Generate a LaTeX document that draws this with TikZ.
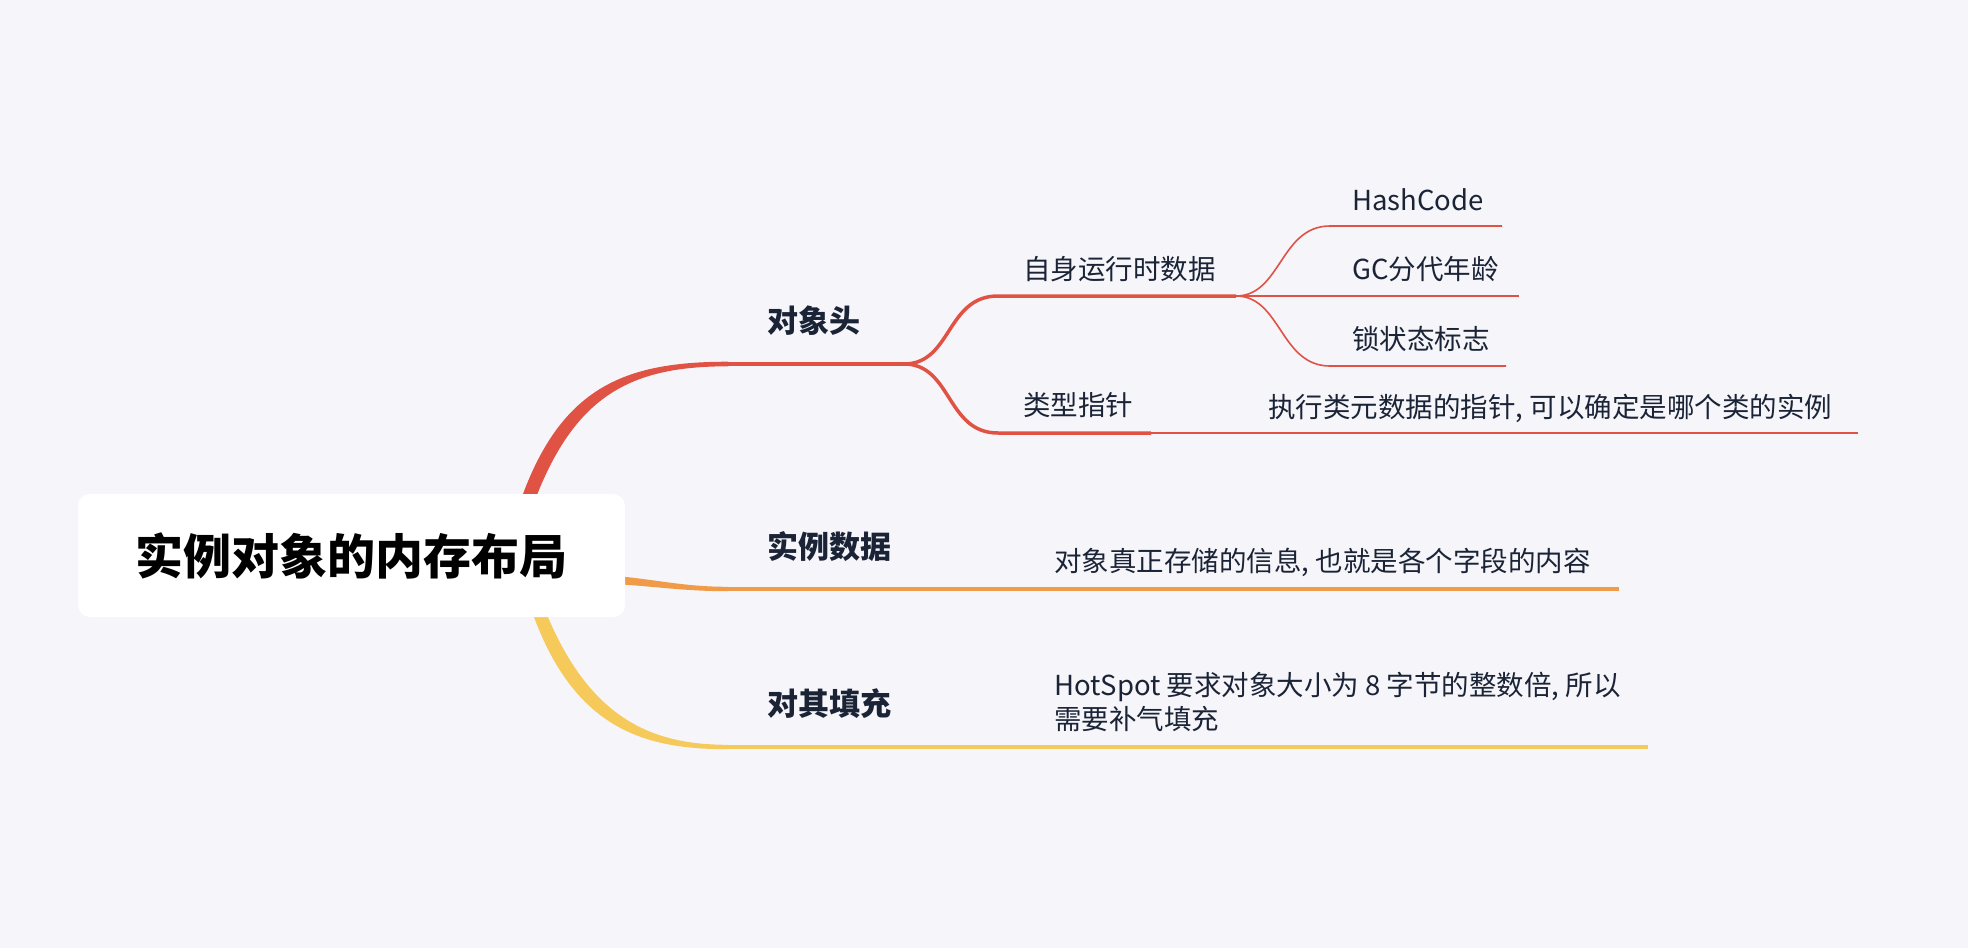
\documentclass[tikz,border=0pt]{standalone}
\usepackage{fontspec}
\setmainfont{Noto Sans CJK SC}
\usepackage{tikz}
\usepackage{xcolor}
\usetikzlibrary{positioning, backgrounds}

\definecolor{pagebg}{HTML}{F5F5FA}
\definecolor{ink}{HTML}{1B2436}
\definecolor{redbr}{HTML}{E05243}
\definecolor{orangebr}{HTML}{EF9B47}
\definecolor{yellowbr}{HTML}{F6CA5A}

\tikzset{
    rootbox/.style={fill=white, rounded corners=12pt, minimum width=547pt, minimum height=123pt, inner sep=0pt, font=\fontsize{48}{58}\selectfont\bfseries},
    topic/.style={anchor=west, inner sep=0pt, text=ink, font=\fontsize{31}{37}\selectfont\bfseries},
    subtopic/.style={anchor=west, inner sep=0pt, text=ink, font=\fontsize{27.5}{34}\selectfont},
    midline/.style={line width=3.5pt},
    leafline/.style={line width=1.6pt}
}

\begin{document}
\begin{tikzpicture}[x=1pt, y=-1pt]
        \useasboundingbox (0,0) rectangle (1968,948);

        \node[rootbox] (root) at (351.5, 555.5) {实例对象的内存布局};

        \node[topic] (hdr) at (767, 321) {对象头};
        \node[topic] (inst) at (767, 547) {实例数据};
        \node[topic] (pad) at (767, 704) {对其填充};

        \node[subtopic] (mark) at (1023, 269) {自身运行时数据};
        \node[subtopic] (kptr) at (1023, 405) {类型指针};
        \node[subtopic] (hash) at (1352, 200) {HashCode};
        \node[subtopic] (gcage) at (1352, 269) {GC分代年龄};
        \node[subtopic] (lock) at (1352, 339) {锁状态标志};
        \node[subtopic] (kptrinfo) at (1268, 408) {执行类元数据的指针, 可以确定是哪个类的实例};
        \node[subtopic] (instinfo) at (1054, 562) {对象真正存储的信息, 也就是各个字段的内容};
        \node[subtopic, align=left] (padinfo) at (1054, 702) {HotSpot 要求对象大小为 8 字节的整数倍, 所以\\需要补气填充};

        \coordinate (r1) at (499, 580);
        \coordinate (r2) at (560, 578);
        \coordinate (r3) at (528, 560);
        \coordinate (hdrL) at (728, 364);
        \coordinate (hdrR) at (904, 364);
        \coordinate (markL) at (998, 296);
        \coordinate (markR) at (1236, 296);
        \coordinate (kptrL) at (998, 433);
        \coordinate (kptrR) at (1151, 433);
        \coordinate (kptrE) at (1858, 433);
        \coordinate (hashL) at (1330, 226);
        \coordinate (hashR) at (1502, 226);
        \coordinate (gcL) at (1330, 296);
        \coordinate (gcR) at (1519, 296);
        \coordinate (lockL) at (1330, 366);
        \coordinate (lockR) at (1506, 366);
        \coordinate (instL) at (728, 589);
        \coordinate (instR) at (1619, 589);
        \coordinate (padL) at (728, 747);
        \coordinate (padR) at (1648, 747);

        \begin{scope}[on background layer]
            \fill[pagebg] (0,0) rectangle (1968,948);

            % tapered main branches
            \fill[redbr] (r1) .. controls +(38,-182) and +(-124,0) .. ([yshift=2.3pt]hdrL)
                -- ([yshift=-2.3pt]hdrL) .. controls +(-114,0) and +(42,-175) .. ([xshift=12pt]r1) -- cycle;
            \fill[orangebr] ([yshift=4.5pt]r2) .. controls +(80,0) and +(-60,0) .. ([yshift=2.2pt]instL)
                -- ([yshift=-2.2pt]instL) .. controls +(-60,0) and +(80,0) .. ([yshift=-4.5pt]r2) -- cycle;
            \fill[yellowbr] (r3) .. controls +(45,156) and +(-82,0) .. ([yshift=2.2pt]padL)
                -- ([yshift=-2.2pt]padL) .. controls +(-92,0) and +(39,166) .. ([xshift=-11pt]r3) -- cycle;

            \draw[redbr, line width=4.6pt] (hdrL) -- (hdrR);
            \draw[orangebr, line width=4.4pt] (instL) -- (instR);
            \draw[yellowbr, line width=4.4pt] (padL) -- (padR);

            \draw[redbr, midline] (hdrR) .. controls +(48,0) and +(-52,0) .. (markL) -- (markR);
            \draw[redbr, midline] (hdrR) .. controls +(48,0) and +(-52,0) .. (kptrL) -- (kptrR);
            \draw[redbr, leafline, line width=2pt] (kptrR) -- (kptrE);

            \draw[redbr, leafline] (markR) .. controls +(45,0) and +(-50,0) .. (hashL) -- (hashR);
            \draw[redbr, leafline] (markR) -- (gcL) -- (gcR);
            \draw[redbr, leafline] (markR) .. controls +(45,0) and +(-50,0) .. (lockL) -- (lockR);
        \end{scope}
    \end{tikzpicture}
\end{document}
